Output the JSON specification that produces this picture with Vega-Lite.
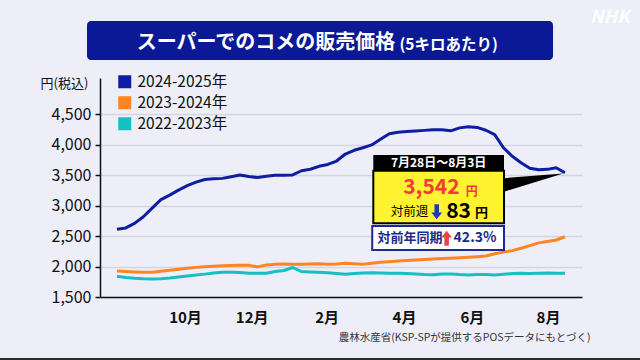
{
  "$schema": "https://vega.github.io/schema/vega-lite/v6.json",
  "width": 482,
  "height": 219,
  "autosize": {"type": "none"},
  "padding": {"left": 100, "top": 78, "right": 58, "bottom": 63},
  "background": "#edeef8",
  "config": {"view": {"stroke": null}, "font": "Noto Sans CJK JP", "axis": {"labelOverlap": false}},
  "datasets": {
    "prices": [
      {"series":"2024-2025年","week":0,"price":2613},{"series":"2024-2025年","week":1,"price":2635},{"series":"2024-2025年","week":2,"price":2710},{"series":"2024-2025年","week":3,"price":2820},{"series":"2024-2025年","week":4,"price":2962},{"series":"2024-2025年","week":5,"price":3100},{"series":"2024-2025年","week":6,"price":3175},{"series":"2024-2025年","week":7,"price":3257},{"series":"2024-2025年","week":8,"price":3331},{"series":"2024-2025年","week":9,"price":3389},{"series":"2024-2025年","week":10,"price":3432},{"series":"2024-2025年","week":11,"price":3445},{"series":"2024-2025年","week":12,"price":3450},{"series":"2024-2025年","week":13,"price":3477},{"series":"2024-2025年","week":14,"price":3506},{"series":"2024-2025年","week":15,"price":3482},{"series":"2024-2025年","week":16,"price":3463},{"series":"2024-2025年","week":17,"price":3484},{"series":"2024-2025年","week":18,"price":3501},{"series":"2024-2025年","week":19,"price":3503},{"series":"2024-2025年","week":20,"price":3506},{"series":"2024-2025年","week":21,"price":3575},{"series":"2024-2025年","week":22,"price":3600},{"series":"2024-2025年","week":23,"price":3648},{"series":"2024-2025年","week":24,"price":3679},{"series":"2024-2025年","week":25,"price":3735},{"series":"2024-2025年","week":26,"price":3850},{"series":"2024-2025年","week":27,"price":3912},{"series":"2024-2025年","week":28,"price":3953},{"series":"2024-2025年","week":29,"price":4000},{"series":"2024-2025年","week":30,"price":4092},{"series":"2024-2025年","week":31,"price":4184},{"series":"2024-2025年","week":32,"price":4208},{"series":"2024-2025年","week":33,"price":4221},{"series":"2024-2025年","week":34,"price":4230},{"series":"2024-2025年","week":35,"price":4239},{"series":"2024-2025年","week":36,"price":4249},{"series":"2024-2025年","week":37,"price":4250},{"series":"2024-2025年","week":38,"price":4232},{"series":"2024-2025年","week":39,"price":4280},{"series":"2024-2025年","week":40,"price":4300},{"series":"2024-2025年","week":41,"price":4288},{"series":"2024-2025年","week":42,"price":4241},{"series":"2024-2025年","week":43,"price":4170},{"series":"2024-2025年","week":44,"price":3954},{"series":"2024-2025年","week":45,"price":3814},{"series":"2024-2025年","week":46,"price":3707},{"series":"2024-2025年","week":47,"price":3618},{"series":"2024-2025年","week":48,"price":3592},{"series":"2024-2025年","week":49,"price":3598},{"series":"2024-2025年","week":50,"price":3625},{"series":"2024-2025年","week":51,"price":3542},
      {"series":"2023-2024年","week":0,"price":1927},{"series":"2023-2024年","week":1,"price":1918},{"series":"2023-2024年","week":2,"price":1912},{"series":"2023-2024年","week":3,"price":1908},{"series":"2023-2024年","week":4,"price":1908},{"series":"2023-2024年","week":5,"price":1924},{"series":"2023-2024年","week":6,"price":1938},{"series":"2023-2024年","week":7,"price":1956},{"series":"2023-2024年","week":8,"price":1973},{"series":"2023-2024年","week":9,"price":1987},{"series":"2023-2024年","week":10,"price":1997},{"series":"2023-2024年","week":11,"price":2005},{"series":"2023-2024年","week":12,"price":2012},{"series":"2023-2024年","week":13,"price":2017},{"series":"2023-2024年","week":14,"price":2022},{"series":"2023-2024年","week":15,"price":2020},{"series":"2023-2024年","week":16,"price":1995},{"series":"2023-2024年","week":17,"price":2025},{"series":"2023-2024年","week":18,"price":2037},{"series":"2023-2024年","week":19,"price":2042},{"series":"2023-2024年","week":20,"price":2040},{"series":"2023-2024年","week":21,"price":2038},{"series":"2023-2024年","week":22,"price":2042},{"series":"2023-2024年","week":23,"price":2046},{"series":"2023-2024年","week":24,"price":2040},{"series":"2023-2024年","week":25,"price":2044},{"series":"2023-2024年","week":26,"price":2053},{"series":"2023-2024年","week":27,"price":2046},{"series":"2023-2024年","week":28,"price":2038},{"series":"2023-2024年","week":29,"price":2055},{"series":"2023-2024年","week":30,"price":2070},{"series":"2023-2024年","week":31,"price":2080},{"series":"2023-2024年","week":32,"price":2090},{"series":"2023-2024年","week":33,"price":2100},{"series":"2023-2024年","week":34,"price":2110},{"series":"2023-2024年","week":35,"price":2117},{"series":"2023-2024年","week":36,"price":2124},{"series":"2023-2024年","week":37,"price":2132},{"series":"2023-2024年","week":38,"price":2138},{"series":"2023-2024年","week":39,"price":2145},{"series":"2023-2024年","week":40,"price":2152},{"series":"2023-2024年","week":41,"price":2162},{"series":"2023-2024年","week":42,"price":2173},{"series":"2023-2024年","week":43,"price":2210},{"series":"2023-2024年","week":44,"price":2238},{"series":"2023-2024年","week":45,"price":2262},{"series":"2023-2024年","week":46,"price":2302},{"series":"2023-2024年","week":47,"price":2345},{"series":"2023-2024年","week":48,"price":2390},{"series":"2023-2024年","week":49,"price":2414},{"series":"2023-2024年","week":50,"price":2437},{"series":"2023-2024年","week":51,"price":2490},
      {"series":"2022-2023年","week":0,"price":1840},{"series":"2022-2023年","week":1,"price":1822},{"series":"2022-2023年","week":2,"price":1808},{"series":"2022-2023年","week":3,"price":1800},{"series":"2022-2023年","week":4,"price":1796},{"series":"2022-2023年","week":5,"price":1800},{"series":"2022-2023年","week":6,"price":1812},{"series":"2022-2023年","week":7,"price":1828},{"series":"2022-2023年","week":8,"price":1845},{"series":"2022-2023年","week":9,"price":1862},{"series":"2022-2023年","week":10,"price":1876},{"series":"2022-2023年","week":11,"price":1893},{"series":"2022-2023年","week":12,"price":1906},{"series":"2022-2023年","week":13,"price":1906},{"series":"2022-2023年","week":14,"price":1904},{"series":"2022-2023年","week":15,"price":1892},{"series":"2022-2023年","week":16,"price":1890},{"series":"2022-2023年","week":17,"price":1892},{"series":"2022-2023年","week":18,"price":1920},{"series":"2022-2023年","week":19,"price":1935},{"series":"2022-2023年","week":20,"price":1985},{"series":"2022-2023年","week":21,"price":1918},{"series":"2022-2023年","week":22,"price":1912},{"series":"2022-2023年","week":23,"price":1906},{"series":"2022-2023年","week":24,"price":1898},{"series":"2022-2023年","week":25,"price":1885},{"series":"2022-2023年","week":26,"price":1875},{"series":"2022-2023年","week":27,"price":1885},{"series":"2022-2023年","week":28,"price":1895},{"series":"2022-2023年","week":29,"price":1900},{"series":"2022-2023年","week":30,"price":1895},{"series":"2022-2023年","week":31,"price":1890},{"series":"2022-2023年","week":32,"price":1892},{"series":"2022-2023年","week":33,"price":1888},{"series":"2022-2023年","week":34,"price":1880},{"series":"2022-2023年","week":35,"price":1870},{"series":"2022-2023年","week":36,"price":1865},{"series":"2022-2023年","week":37,"price":1878},{"series":"2022-2023年","week":38,"price":1880},{"series":"2022-2023年","week":39,"price":1868},{"series":"2022-2023年","week":40,"price":1862},{"series":"2022-2023年","week":41,"price":1870},{"series":"2022-2023年","week":42,"price":1868},{"series":"2022-2023年","week":43,"price":1862},{"series":"2022-2023年","week":44,"price":1872},{"series":"2022-2023年","week":45,"price":1885},{"series":"2022-2023年","week":46,"price":1890},{"series":"2022-2023年","week":47,"price":1886},{"series":"2022-2023年","week":48,"price":1890},{"series":"2022-2023年","week":49,"price":1893},{"series":"2022-2023年","week":50,"price":1890},{"series":"2022-2023年","week":51,"price":1890}
    ]
  },
  "layer": [
    {
      "data": {"name": "prices"},
      "mark": {"type": "line", "strokeWidth": 3, "strokeJoin": "round"},
      "encoding": {
        "x": {
          "field": "week", "type": "quantitative",
          "scale": {"domain": [-1.935, 52.94], "nice": false, "zero": false},
          "axis": {
            "values": [7.74, 15.33, 23.87, 32.67, 40.41, 49.07], "tickCount": 20,
            "labelExpr": "datum.value < 10 ? '10月' : datum.value < 20 ? '12月' : datum.value < 28 ? '2月' : datum.value < 36 ? '4月' : datum.value < 45 ? '6月' : '8月'",
            "grid": false, "ticks": false,
            "domainColor": "#111", "domainWidth": 1.5,
            "labelFontSize": 15, "labelFontWeight": "bold", "labelColor": "#111",
            "labelPadding": 13, "labelFlush": false, "labelOverlap": false,
            "title": "農林水産省(KSP-SPが提供するPOSデータにもとづく)",
            "titleFontSize": 10.5, "titleFontWeight": "normal", "titleColor": "#333",
            "titleX": 490, "titleY": 40, "titleAlign": "right", "titleBaseline": "middle"
          }
        },
        "y": {
          "field": "price", "type": "quantitative",
          "scale": {"domain": [1500, 5100], "nice": false, "zero": false},
          "axis": {
            "values": [1500, 2000, 2500, 3000, 3500, 4000, 4500], "tickCount": 20,
            "format": ",.0f", "labelOverlap": false,
            "gridColor": "#d4d6df", "gridWidth": 1.5,
            "domainColor": "#111", "domainWidth": 1.5,
            "tickColor": "#111", "tickSize": 5, "tickWidth": 1.5,
            "labelFontSize": 16, "labelColor": "#111", "labelPadding": 4,
            "title": "円(税込)", "titleAngle": 0, "titleAlign": "center", "titleBaseline": "middle",
            "titleX": -36, "titleY": 5, "titleFontSize": 13, "titleFontWeight": "normal", "titleColor": "#111"
          }
        },
        "color": {
          "field": "series", "type": "nominal",
          "scale": {"domain": ["2024-2025年", "2023-2024年", "2022-2023年"], "range": ["#0f1ea0", "#ff8422", "#14c0c2"]},
          "legend": {
            "orient": "none", "legendX": 17, "legendY": -4, "title": null, "padding": 0,
            "symbolType": "square", "symbolSize": 169, "symbolStrokeWidth": 0,
            "labelFontSize": 15.5, "labelColor": "#111", "labelOffset": 5, "rowPadding": 4,
            "encode": {"symbols": {"update": {"fill": {"scale": "color", "field": "value"}, "opacity": {"value": 1}}}}
          }
        }
      }
    },
    {
      "data": {"values": [{}]},
      "mark": {"type": "rect", "fill": "#0b1996", "cornerRadius": 4},
      "encoding": {
        "x": {"datum": -3.415, "type": "quantitative"}, "x2": {"datum": 49.64},
        "y": {"datum": 6037, "type": "quantitative"}, "y2": {"datum": 5396}
      }
    },
    {
      "data": {"values": [{}]},
      "mark": {"type": "text", "text": "スーパーでのコメの販売価格", "fontSize": 20, "fontWeight": "bold", "color": "white", "align": "left", "baseline": "middle"},
      "encoding": {"x": {"datum": 2.24, "type": "quantitative"}, "y": {"datum": 5670, "type": "quantitative"}}
    },
    {
      "data": {"values": [{}]},
      "mark": {"type": "text", "text": "(5キロあたり)", "fontSize": 15.5, "fontWeight": "bold", "color": "white", "align": "left", "baseline": "middle"},
      "encoding": {"x": {"datum": 32.15, "type": "quantitative"}, "y": {"datum": 5642, "type": "quantitative"}}
    },
    {
      "data": {"values": [{}]},
      "mark": {"type": "text", "text": "NHK", "fontSize": 18, "fontWeight": "bold", "fontStyle": "italic", "color": "white", "opacity": 0.9, "align": "center", "baseline": "middle"},
      "encoding": {"x": {"datum": 56.1, "type": "quantitative"}, "y": {"datum": 6090, "type": "quantitative"}}
    },
    {
      "data": {"values": [{}]},
      "mark": {"type": "rule", "color": "#2a2a2a", "strokeWidth": 2},
      "encoding": {
        "x": {"datum": -13.32, "type": "quantitative"}, "x2": {"datum": 59.54},
        "y": {"datum": 481, "type": "quantitative"}
      }
    },
    {
      "data": {"values": [{}]},
      "mark": {"type": "point", "shape": "M-0.06,0.02 L-2.03,0.18 L-2.03,0.63 Z", "size": 3600, "filled": true, "color": "#000", "opacity": 1, "strokeWidth": 0},
      "encoding": {"x": {"datum": 51, "type": "quantitative"}, "y": {"datum": 3542, "type": "quantitative"}}
    },
    {
      "data": {"values": [{}]},
      "mark": {"type": "rect", "fill": "#fff230", "stroke": "#000", "strokeWidth": 2},
      "encoding": {
        "x": {"datum": 29.18, "type": "quantitative"}, "x2": {"datum": 44.06},
        "y": {"datum": 3576, "type": "quantitative"}, "y2": {"datum": 2711}
      }
    },
    {
      "data": {"values": [{}]},
      "mark": {"type": "rect", "fill": "#000"},
      "encoding": {
        "x": {"datum": 29.18, "type": "quantitative"}, "x2": {"datum": 44.06},
        "y": {"datum": 3834, "type": "quantitative"}, "y2": {"datum": 3576}
      }
    },
    {
      "data": {"values": [{}]},
      "mark": {"type": "text", "text": "7月28日～8月3日", "fontSize": 12, "fontWeight": "bold", "color": "white", "align": "center", "baseline": "middle"},
      "encoding": {"x": {"datum": 36.62, "type": "quantitative"}, "y": {"datum": 3703, "type": "quantitative"}}
    },
    {
      "data": {"values": [{}]},
      "mark": {"type": "text", "text": "3,542", "fontSize": 21, "fontWeight": "bold", "color": "#f23b3b", "align": "right", "baseline": "middle"},
      "encoding": {"x": {"datum": 39.0, "type": "quantitative"}, "y": {"datum": 3285, "type": "quantitative"}}
    },
    {
      "data": {"values": [{}]},
      "mark": {"type": "text", "text": "円", "fontSize": 12, "fontWeight": "bold", "color": "#f23b3b", "align": "left", "baseline": "middle"},
      "encoding": {"x": {"datum": 39.7, "type": "quantitative"}, "y": {"datum": 3220, "type": "quantitative"}}
    },
    {
      "data": {"values": [{}]},
      "mark": {"type": "text", "text": "対前週", "fontSize": 12.5, "fontWeight": "normal", "color": "#000", "align": "right", "baseline": "middle"},
      "encoding": {"x": {"datum": 35.45, "type": "quantitative"}, "y": {"datum": 2902, "type": "quantitative"}}
    },
    {
      "data": {"values": [{}]},
      "mark": {"type": "point", "shape": "M-0.3,-1 L0.3,-1 L0.3,0.1 L0.72,0.1 L0,1 L-0.72,0.1 L-0.3,0.1 Z", "size": 225, "filled": true, "color": "#1a3cb4", "opacity": 1, "strokeWidth": 0},
      "encoding": {"x": {"datum": 36.4, "type": "quantitative"}, "y": {"datum": 2902, "type": "quantitative"}}
    },
    {
      "data": {"values": [{}]},
      "mark": {"type": "text", "text": "83", "fontSize": 21, "fontWeight": "bold", "color": "#000", "align": "right", "baseline": "middle"},
      "encoding": {"x": {"datum": 40.3, "type": "quantitative"}, "y": {"datum": 2890, "type": "quantitative"}}
    },
    {
      "data": {"values": [{}]},
      "mark": {"type": "text", "text": "円", "fontSize": 13, "fontWeight": "bold", "color": "#000", "align": "left", "baseline": "middle"},
      "encoding": {"x": {"datum": 40.75, "type": "quantitative"}, "y": {"datum": 2885, "type": "quantitative"}}
    },
    {
      "data": {"values": [{}]},
      "mark": {"type": "rect", "fill": "#ffffff", "stroke": "#1b2a96", "strokeWidth": 2},
      "encoding": {
        "x": {"datum": 29.06, "type": "quantitative"}, "x2": {"datum": 44.06},
        "y": {"datum": 2667, "type": "quantitative"}, "y2": {"datum": 2273}
      }
    },
    {
      "data": {"values": [{}]},
      "mark": {"type": "text", "text": "対前年同期", "fontSize": 13, "fontWeight": "bold", "color": "#1b2a8a", "align": "center", "baseline": "middle"},
      "encoding": {"x": {"datum": 33.36, "type": "quantitative"}, "y": {"datum": 2465, "type": "quantitative"}}
    },
    {
      "data": {"values": [{}]},
      "mark": {"type": "point", "shape": "M-0.3,1 L0.3,1 L0.3,-0.1 L0.72,-0.1 L0,-1 L-0.72,-0.1 L-0.3,-0.1 Z", "size": 225, "filled": true, "color": "#f04242", "opacity": 1, "strokeWidth": 0},
      "encoding": {"x": {"datum": 37.53, "type": "quantitative"}, "y": {"datum": 2465, "type": "quantitative"}}
    },
    {
      "data": {"values": [{}]},
      "mark": {"type": "text", "text": "42.3%", "fontSize": 14, "fontWeight": "bold", "color": "#1b2a8a", "align": "center", "baseline": "middle"},
      "encoding": {"x": {"datum": 40.76, "type": "quantitative"}, "y": {"datum": 2465, "type": "quantitative"}}
    }
  ]
}
